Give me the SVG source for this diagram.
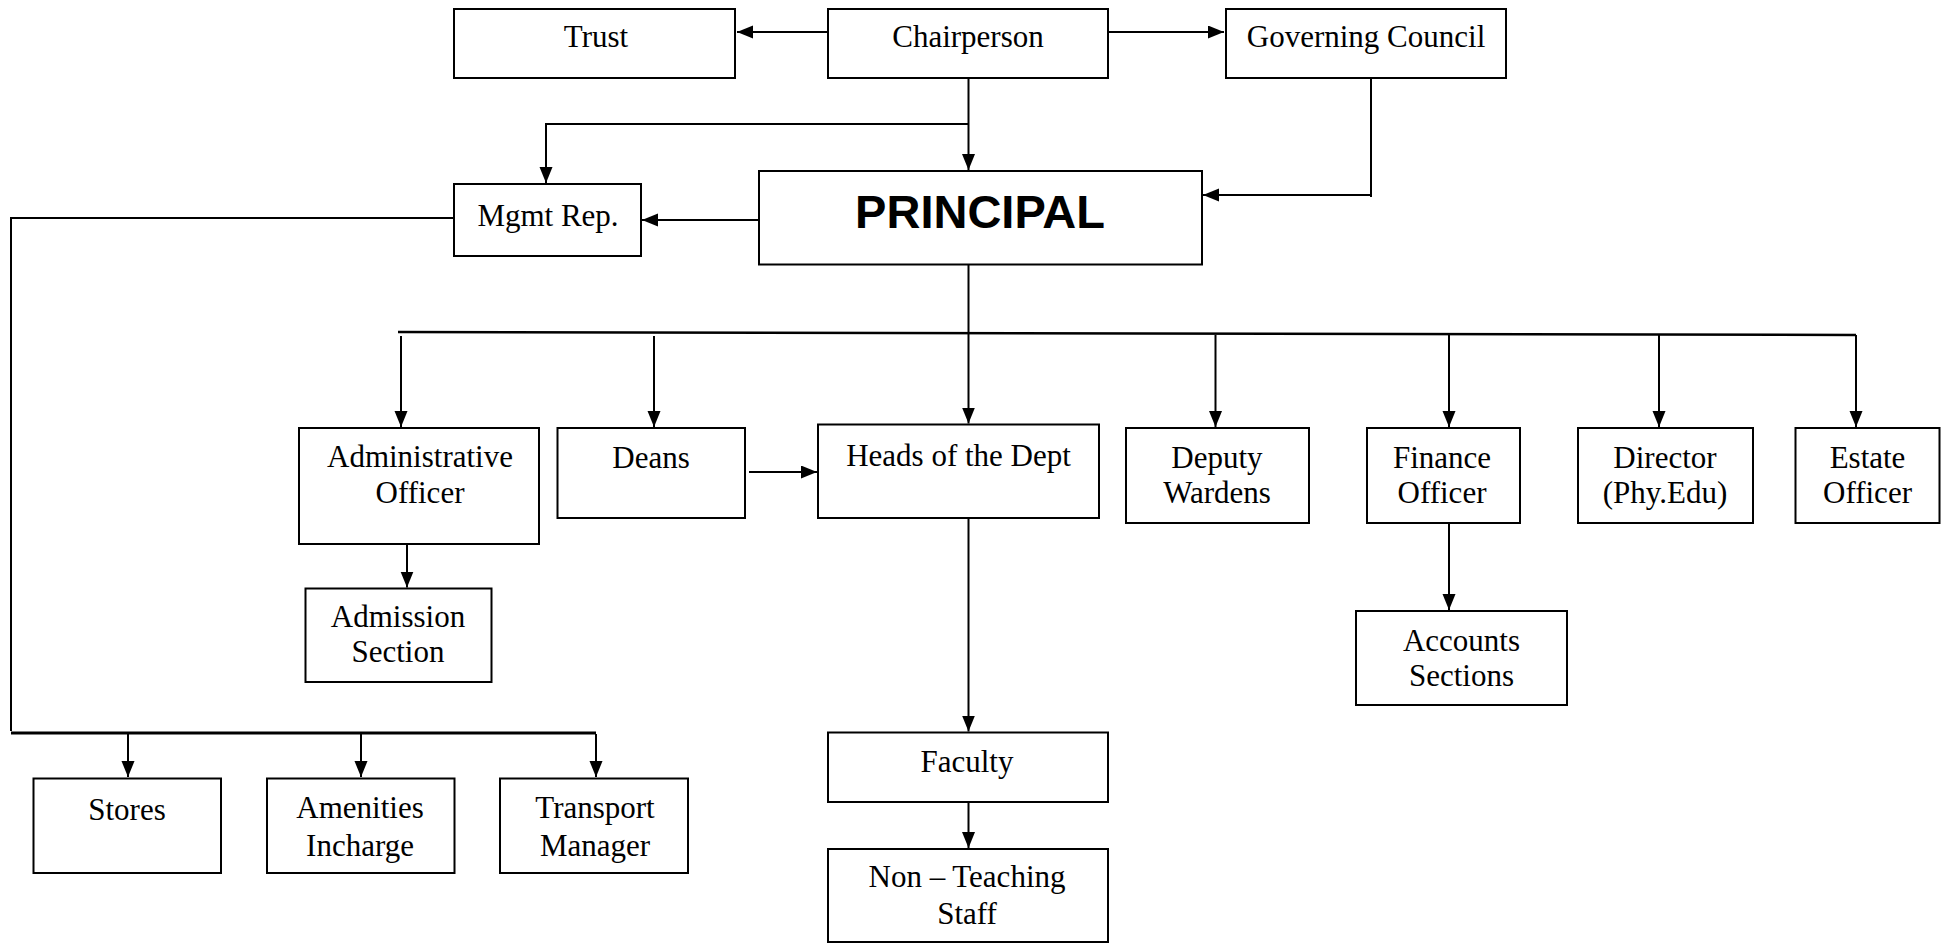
<svg xmlns="http://www.w3.org/2000/svg" width="1947" height="943" viewBox="0 0 1947 943">
<defs>
<marker id="ah" markerUnits="userSpaceOnUse" markerWidth="18" markerHeight="14" refX="16" refY="6.5" orient="auto">
<path d="M0,0 L16,6.5 L0,13 z" fill="#000"/>
</marker>
<style>
rect{fill:#fff;stroke:#000;stroke-width:2}
text{font-family:"Liberation Serif","Times New Roman",serif;font-size:31px;fill:#000;text-anchor:middle}
.big{font-family:"Liberation Sans",Arial,sans-serif;font-weight:bold;font-size:47px}
#connectors path{fill:none;stroke:#000;stroke-width:2}
.arr{marker-end:url(#ah)}
</style>
</defs>
<rect x="0" y="0" width="1947" height="943" style="fill:#fff;stroke:none"/>
<g id="connectors">
<path class="arr" d="M828,32 L737,32"/>
<path class="arr" d="M1108,32 L1224,32"/>
<path class="arr" d="M968.5,78 L968.5,170"/>
<path class="arr" d="M968.5,124 L546,124 L546,183"/>
<path d="M1371,78 L1371,197"/>
<path class="arr" d="M1370,195 L1203,195"/>
<path class="arr" d="M759,220 L642,220"/>
<path d="M454,218 L11,218 L11,731"/>
<path d="M11,733 L596,733" style="stroke-width:3"/>
<path class="arr" d="M128,734 L128,777"/>
<path class="arr" d="M361,734 L361,777"/>
<path class="arr" d="M596,734 L596,777"/>
<path d="M968.5,264.5 L968.5,332"/>
<path d="M398,332 L1856,335" style="stroke-width:2.5"/>
<path class="arr" d="M401,336 L401,427"/>
<path class="arr" d="M654,336 L654,427"/>
<path class="arr" d="M968.5,332 L968.5,423.5"/>
<path class="arr" d="M1215.5,335 L1215.5,427"/>
<path class="arr" d="M1449,335 L1449,427"/>
<path class="arr" d="M1659,335 L1659,427"/>
<path class="arr" d="M1856,335 L1856,427"/>
<path class="arr" d="M749,472 L817,472"/>
<path class="arr" d="M407,541 L407,587.5"/>
<path class="arr" d="M968.5,518 L968.5,731.5"/>
<path class="arr" d="M968.5,802 L968.5,848"/>
<path class="arr" d="M1449,520 L1449,610"/>
</g>
<g id="trust"><rect x="454" y="9" width="281" height="69"/><text x="596" y="47">Trust</text></g>
<g id="chairperson"><rect x="828" y="9" width="280" height="69"/><text x="968" y="47">Chairperson</text></g>
<g id="governing-council"><rect x="1226" y="9" width="280" height="69"/><text x="1366" y="47">Governing Council</text></g>
<g id="principal"><rect x="759" y="171" width="443" height="93.5"/><text class="big" x="980" y="228">PRINCIPAL</text></g>
<g id="mgmt-rep"><rect x="454" y="184" width="187" height="72"/><text x="548" y="226">Mgmt Rep.</text></g>
<g id="admin-officer"><rect x="299" y="428" width="240" height="116"/><text x="420" y="467">Administrative</text><text x="420" y="503">Officer</text></g>
<g id="deans"><rect x="557.5" y="428" width="187.5" height="90"/><text x="651" y="468">Deans</text></g>
<g id="heads"><rect x="818" y="424.5" width="281" height="93.5"/><text x="958.5" y="466">Heads of the Dept</text></g>
<g id="deputy-wardens"><rect x="1126" y="428" width="183" height="95"/><text x="1217" y="468">Deputy</text><text x="1217" y="503">Wardens</text></g>
<g id="finance-officer"><rect x="1367" y="428" width="153" height="95"/><text x="1442" y="468">Finance</text><text x="1442" y="503">Officer</text></g>
<g id="director"><rect x="1578" y="428" width="175" height="95"/><text x="1665" y="468">Director</text><text x="1665" y="503">(Phy.Edu)</text></g>
<g id="estate-officer"><rect x="1795.5" y="428" width="144" height="95"/><text x="1867.5" y="468">Estate</text><text x="1867.5" y="503">Officer</text></g>
<g id="admission"><rect x="305.5" y="588.5" width="186" height="93.5"/><text x="398" y="627">Admission</text><text x="398" y="662">Section</text></g>
<g id="accounts"><rect x="1356" y="611" width="211" height="94"/><text x="1461.5" y="651">Accounts</text><text x="1461.5" y="686">Sections</text></g>
<g id="stores"><rect x="33.5" y="778.5" width="187.5" height="94.5"/><text x="127" y="820">Stores</text></g>
<g id="amenities"><rect x="267" y="778.5" width="187.5" height="94.5"/><text x="360" y="818">Amenities</text><text x="360" y="856">Incharge</text></g>
<g id="transport"><rect x="500" y="778.5" width="188" height="94.5"/><text x="595" y="818">Transport</text><text x="595" y="856">Manager</text></g>
<g id="faculty"><rect x="828" y="732.5" width="280" height="69.5"/><text x="967" y="772">Faculty</text></g>
<g id="non-teaching"><rect x="828" y="849" width="280" height="93"/><text x="967" y="887">Non – Teaching</text><text x="967" y="924">Staff</text></g>
</svg>
